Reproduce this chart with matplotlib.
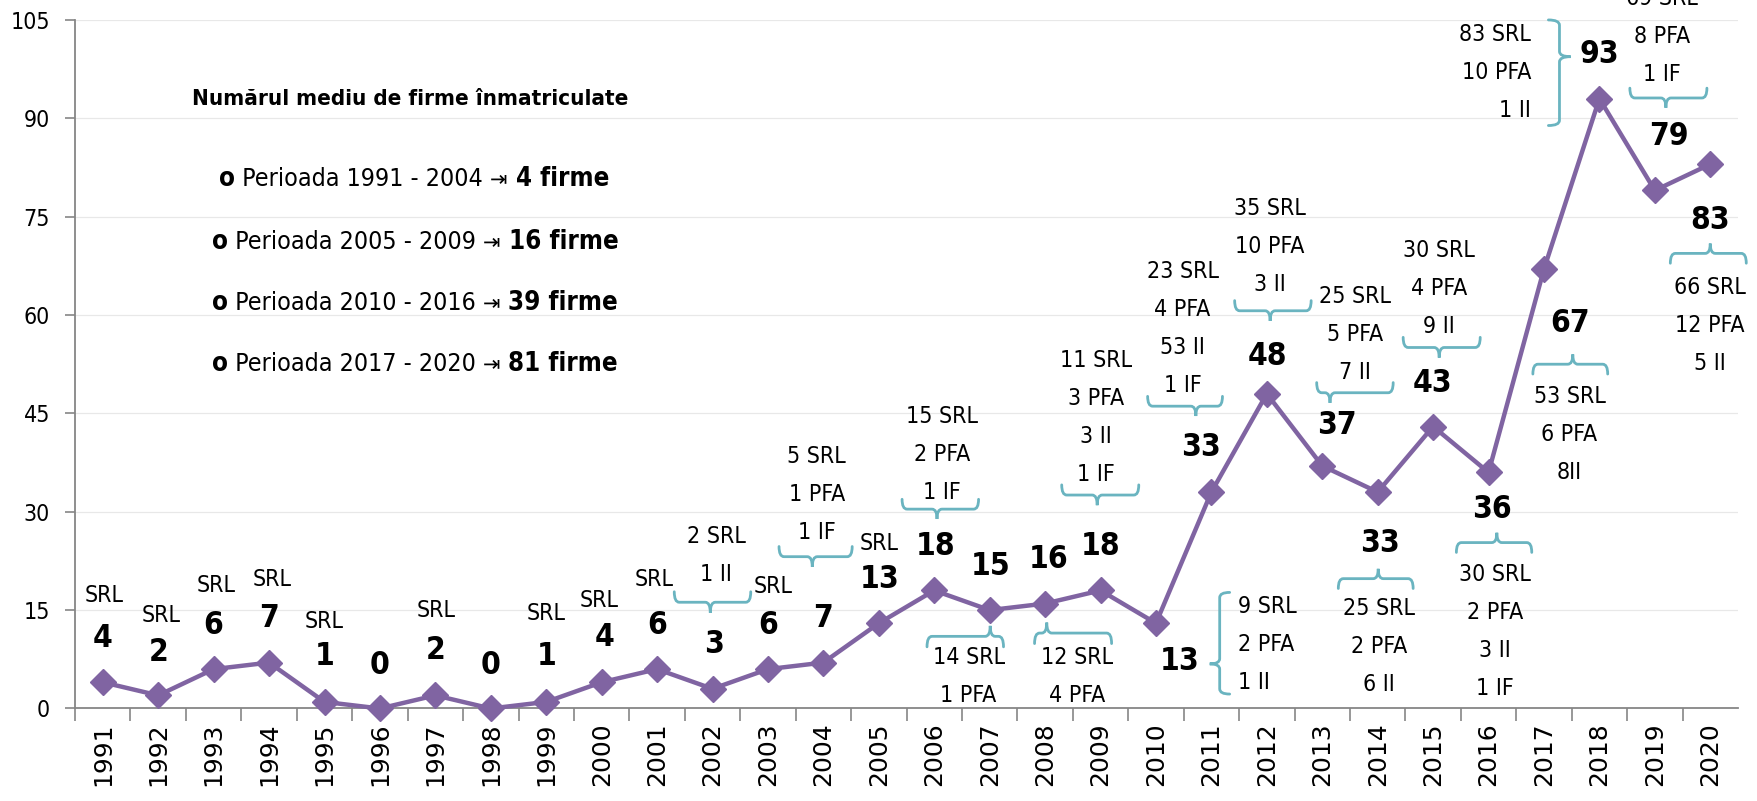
import os
import matplotlib
matplotlib.use('Agg')
import matplotlib.pyplot as plt
from matplotlib import font_manager as fm
from matplotlib.path import Path
from matplotlib.patches import PathPatch

# --- data ---
years = list(range(1991, 2021))
firme = [4, 2, 6, 7, 1, 0, 2, 0, 1, 4, 6, 3, 6, 7, 13, 18, 15, 16, 18, 13,
         33, 48, 37, 33, 43, 36, 67, 93, 79, 83]
detalii = ['SRL', 'SRL', 'SRL', 'SRL', 'SRL', '', 'SRL', '', 'SRL', 'SRL',
           'SRL', '2 SRL\n1 II', 'SRL', '5 SRL\n1 PFA\n1 IF', 'SRL',
           '15 SRL\n2 PFA\n1 IF', '14 SRL\n1 PFA', '12 SRL\n4 PFA',
           '11 SRL\n3 PFA\n3 II\n1 IF', '9 SRL\n2 PFA\n1 II',
           '23 SRL\n4 PFA\n53 II\n1 IF', '35 SRL\n10 PFA\n3 II',
           '25 SRL\n5 PFA\n7 II', '25 SRL\n2 PFA\n6 II', '30 SRL\n4 PFA\n9 II',
           '30 SRL\n2 PFA\n3 II\n1 IF', '53 SRL\n6 PFA\n8II',
           '83 SRL\n10 PFA\n1 II', '69 SRL\n8 PFA\n1 IF', '66 SRL\n12 PFA\n5 II']

titlu = 'Numărul mediu de firme înmatriculate'
perioade = ['Perioada 1991 - 2004', 'Perioada 2005 - 2009',
            'Perioada 2010 - 2016', 'Perioada 2017 - 2020']
medii = ['4 firme', '16 firme', '39 firme', '81 firme']

# --- label layout (offset from year, y in axis units) ---
val_pos = [(0, 10.7), (0, 8.6), (0, 12.6), (0, 13.7), (0, 7.9), (0, 6.6),
           (0, 8.9), (0, 6.6), (0, 7.9), (0.05, 10.8), (0, 12.7), (0.02, 9.7),
           (0, 12.6), (0, 13.7), (0.02, 19.6), (0.02, 24.7), (0.01, 21.6),
           (0.06, 22.7), (0, 24.7), (0.42, 7.1), (-0.19, 39.8), (0.02, 53.7),
           (0.27, 43.1), (0.04, 25.1), (-0.01, 49.6), (0.06, 30.3),
           (0.48, 58.7), (0, 99.8), (0.25, 87.3), (0, 74.4)]
det_pos = [(0.03, 17.3, 'center'), (0.06, 14.2, 'center'), (0.05, 18.8, 'center'),
           (0.05, 19.7, 'center'), (0, 13.2, 'center'), (0, 0, 'center'),
           (0.02, 15.0, 'center'), (0, 0, 'center'), (0, 14.5, 'center'),
           (-0.05, 16.5, 'center'), (-0.05, 19.6, 'center'), (0.07, 23.35, 'center'),
           (0.1, 18.6, 'center'), (-0.12, 32.6, 'center'), (0, 25.2, 'center'),
           (0.14, 38.8, 'center'), (-0.38, 4.9, 'center'), (0.58, 4.9, 'center'),
           (-0.08, 44.4, 'center'), (1.48, 9.8, 'left'), (-0.52, 58.0, 'center'),
           (0.05, 70.5, 'center'), (0.59, 57.1, 'center'), (0.03, 9.4, 'center'),
           (0.1, 64.1, 'center'), (0.12, 11.75, 'center'), (0.46, 41.8, 'center'),
           (-1.23, 97.0, 'right'), (0.13, 102.5, 'center'), (0, 58.4, 'center')]
# horizontal braces: year -> (x0, x1, xtip, y_ends, y_tip)
braces_h = {2002: (-0.69, 0.69, -0.04, 17.8, 14.6),
            2004: (-0.8, 0.52, -0.2, 24.7, 21.6),
            2006: (-0.58, 0.8, 0.05, 31.9, 28.9),
            2007: (-1.13, 0.25, 0.01, 9.4, 12.6),
            2008: (-0.19, 1.2, 0.03, 9.9, 13.1),
            2009: (-0.7, 0.69, -0.06, 34.1, 31.0),
            2011: (-1.15, 0.2, -0.28, 47.6, 44.6),
            2012: (-0.58, 0.8, 0.06, 62.2, 59.1),
            2013: (-0.1, 1.28, 0.14, 49.7, 46.6),
            2014: (-0.71, 0.64, 0.01, 18.3, 21.3),
            2015: (-0.54, 0.85, 0.11, 56.6, 53.5),
            2016: (-0.58, 0.78, 0.15, 23.8, 26.8),
            2017: (-0.2, 1.15, 0.52, 51.0, 54.0),
            2019: (-0.45, 0.94, 0.2, 94.6, 91.6),
            2020: (-0.72, 0.65, 0, 67.9, 70.9)}
# vertical braces: year -> (x_ends, x_tip, y0, y1, y_tip)
braces_v = {2010: (1.33, 0.97, 17.7, 2.2, 6.8),
            2018: (-0.92, -0.52, 105.0, 88.9, 99.4)}

PURPLE = '#8064A2'
TEAL = '#6AB4C0'
GRAY = '#868686'


def font_file(names):
    files = {os.path.basename(f.fname): f.fname for f in fm.fontManager.ttflist}
    for n in names:
        if n in files:
            return files[n]
    return None

REG = font_file(['LiberationSansNarrow-Regular.ttf', 'DejaVuSansCondensed.ttf',
                 'RobotoCondensed-Regular.ttf'])
BLD = font_file(['LiberationSansNarrow-Bold.ttf', 'DejaVuSansCondensed-Bold.ttf',
                 'RobotoCondensed-Bold.ttf'])
K_REG, K_BLD = 1.0, 1.0
if REG is None or 'Narrow' not in REG:
    K_REG, K_BLD = 0.92, 0.95


def fp(size, bold=False):
    f = BLD if bold else REG
    k = K_BLD if bold else K_REG
    if f:
        return fm.FontProperties(fname=f, size=size * k)
    return fm.FontProperties(family='DejaVu Sans',
                             weight='bold' if bold else 'normal', size=size * k)


def brace_h(ax, x0, x1, xt, ye, yt, r=0.09):
    ym = (ye + yt) / 2
    verts = [(x0, ye), (x0, ym), (x0 + r, ym), (xt - r, ym), (xt, ym), (xt, yt),
             (xt, ym), (xt + r, ym), (x1 - r, ym), (x1, ym), (x1, ye)]
    codes = [Path.MOVETO, Path.CURVE3, Path.CURVE3, Path.LINETO, Path.CURVE3,
             Path.CURVE3, Path.CURVE3, Path.CURVE3, Path.LINETO, Path.CURVE3,
             Path.CURVE3]
    ax.add_patch(PathPatch(Path(verts, codes), fill=False, ec=TEAL, lw=2,
                           clip_on=False, capstyle='round'))


def brace_v(ax, xe, xt, y0, y1, yt, r=0.8):
    xm = (xe + xt) / 2
    s = 1 if y0 > y1 else -1
    verts = [(xe, y0), (xm, y0), (xm, y0 - s * r), (xm, yt + s * r), (xm, yt),
             (xt, yt), (xm, yt), (xm, yt - s * r), (xm, y1 + s * r), (xm, y1),
             (xe, y1)]
    codes = [Path.MOVETO, Path.CURVE3, Path.CURVE3, Path.LINETO, Path.CURVE3,
             Path.CURVE3, Path.CURVE3, Path.CURVE3, Path.LINETO, Path.CURVE3,
             Path.CURVE3]
    ax.add_patch(PathPatch(Path(verts, codes), fill=False, ec=TEAL, lw=2,
                           clip_on=False, capstyle='round'))


fig = plt.figure(figsize=(17.58, 8.01), dpi=100)
ax = fig.add_axes([0.0427, 0.1155, 0.9459, 0.8596])

ax.plot(years, firme, '-', color=PURPLE, lw=3.2, marker='D', ms=13,
        mec=PURPLE, clip_on=False, zorder=3)

ax.set_xlim(1990.5, 2020.5)
ax.set_ylim(0, 105)
ax.set_yticks(range(0, 106, 15))
ax.set_xticks(years)
ax.set_xticklabels([str(y) for y in years], rotation=90,
                   fontsize=18, family='DejaVu Sans')
ax.set_xticks([y + 0.5 for y in range(1990, 2020)], minor=True)
ax.tick_params(axis='x', which='major', length=0, pad=10)
ax.tick_params(axis='x', which='minor', length=9, width=1.2, color=GRAY)
ax.tick_params(axis='y', length=7, width=1.2, color=GRAY, pad=11)
for lab in ax.get_yticklabels():
    lab.set_fontproperties(fp(18))
ax.grid(axis='y', color='#E8E8E8', lw=0.9)
ax.set_axisbelow(True)
for side in ['top', 'right']:
    ax.spines[side].set_visible(False)
for side in ['left', 'bottom']:
    ax.spines[side].set_color(GRAY)
    ax.spines[side].set_linewidth(1.3)

STEP = 5.8
for yr, v, (bdx, by), (ddx, dy, ha), det in zip(years, firme, val_pos, det_pos, detalii):
    ax.text(yr + bdx, by, str(v), ha='center', va='center',
            fontproperties=fp(24, True), clip_on=False)
    if det:
        lines = det.split('\n')
        n = len(lines)
        for k, line in enumerate(lines):
            ax.text(yr + ddx, dy + ((n - 1) / 2 - k) * STEP, line, ha=ha,
                    va='center', fontproperties=fp(18), clip_on=False)

for yr, (x0, x1, xt, ye, yt) in braces_h.items():
    brace_h(ax, yr + x0, yr + x1, yr + xt, ye, yt)
for yr, (xe, xt, y0, y1, yt) in braces_v.items():
    brace_v(ax, yr + xe, yr + xt, y0, y1, yt)

# inset summary
ax.text(1996.55, 92.9, titlu, ha='center', va='center',
        fontproperties=fp(17, True))
fig.canvas.draw()
rend = fig.canvas.get_renderer()
inv = ax.transData.inverted()
for i, (per, med) in enumerate(zip(perioade, medii)):
    y = [79.7, 70.1, 60.7, 51.5][i]
    x = 1993.1 if i == 0 else 1992.97
    pieces = [('o', fp(19.5, True)), (' ' + per + ' ', fp(19.5)),
              ('\u21e5', fm.FontProperties(family='DejaVu Sans', size=15)),
              (' ' + med, fp(19.5, True))]
    for s, prop in pieces:
        t = ax.text(x, y, s, ha='left', va='baseline', fontproperties=prop)
        bb = t.get_window_extent(rend)
        x = inv.transform((bb.x1, bb.y0))[0]

fig.savefig('out.png', dpi=100)
